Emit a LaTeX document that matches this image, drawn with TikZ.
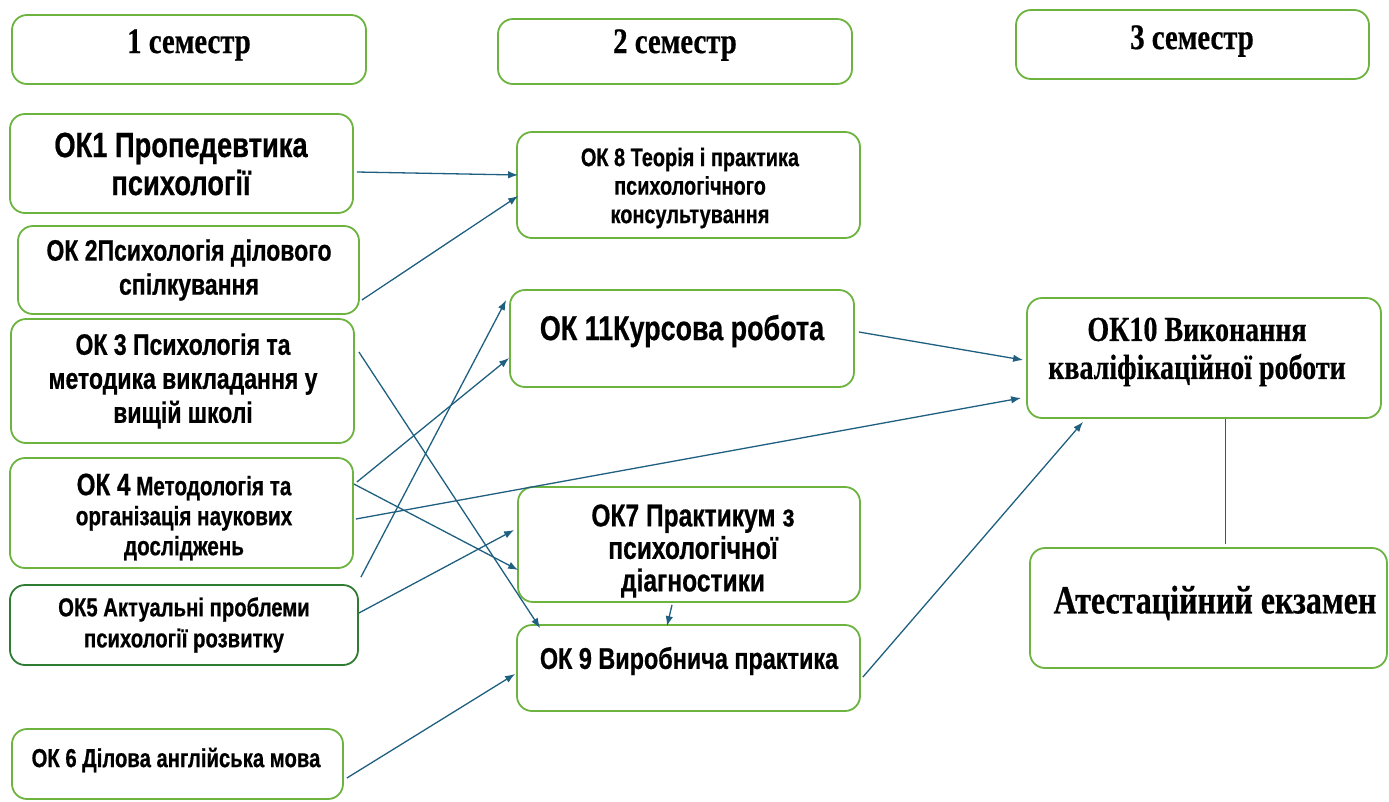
\documentclass[tikz,border=0pt]{standalone}
\usepackage{fontspec}
\usetikzlibrary{arrows.meta}
\newfontfamily\ns{Liberation Sans}[FakeStretch=0.78,FakeBold=0.6]
\newfontfamily\sr{Liberation Serif}[FakeStretch=0.8,FakeBold=0.5]
\definecolor{boxgreen}{HTML}{6CB33F}
\definecolor{darkgreen}{HTML}{2E7D32}
\definecolor{arrowblue}{HTML}{1F5F80}
\newcommand{\fs}[2]{\fontsize{#1}{#2}\selectfont}
\tikzset{
  box/.style={draw=boxgreen, line width=1.8pt, rounded corners=15pt, inner sep=0pt, fill=white},
  lbl/.style={align=center, inner sep=0pt},
  conn/.style={draw=arrowblue, line width=1.3pt, -{Latex[length=10pt,width=7.5pt]}},
  link/.style={draw=arrowblue, line width=1pt}
}
\begin{document}
\begin{tikzpicture}[x=1pt,y=-1pt]
\useasboundingbox (0,0) rectangle (1389,801);
% boxes
\node[box, minimum width=354pt, minimum height=69pt] (s1) at (189,49.5) {};
\node[box, minimum width=354pt, minimum height=65pt] (s2) at (675,51.5) {};
\node[box, minimum width=353pt, minimum height=69pt] (s3) at (1192.5,44.5) {};
\node[box, minimum width=343pt, minimum height=99pt] (ok1) at (181.5,163.5) {};
\node[box, minimum width=341pt, minimum height=88pt] (ok2) at (188.5,270) {};
\node[box, minimum width=343pt, minimum height=124pt] (ok3) at (182.5,381) {};
\node[box, minimum width=343pt, minimum height=110pt] (ok4) at (181.5,513) {};
\node[box, draw=darkgreen, minimum width=348pt, minimum height=80pt] (ok5) at (184,625) {};
\node[box, minimum width=331pt, minimum height=70pt] (ok6) at (177.5,764) {};
\node[box, minimum width=343pt, minimum height=106pt] (ok8) at (688.5,185) {};
\node[box, minimum width=344pt, minimum height=97pt] (ok11) at (682,338.5) {};
\node[box, minimum width=342pt, minimum height=115pt] (ok7) at (689,544.5) {};
\node[box, minimum width=343pt, minimum height=86pt] (ok9) at (688.5,668) {};
\node[box, minimum width=354pt, minimum height=120pt] (ok10) at (1204,358) {};
\node[box, minimum width=357pt, minimum height=120pt] (att) at (1208.5,608) {};
% texts
\node[lbl, font=\sr\bfseries\fs{36}{40}] (t-s1) at (189,45) {1 семестр};
\node[lbl, font=\sr\bfseries\fs{36}{40}] (t-s2) at (675,45) {2 семестр};
\node[lbl, font=\sr\bfseries\fs{36}{40}] (t-s3) at (1192,41) {3 семестр};
\node[lbl, font=\ns\bfseries\fs{35}{38}] (t-ok1) at (181,164) {ОК1 Пропедевтика\\психології};
\node[lbl, font=\ns\bfseries\fs{29.5}{34}] (t-ok2) at (189,270) {ОК 2Психологія ділового\\спілкування};
\node[lbl, font=\ns\bfseries\fs{29.5}{34}] (t-ok3) at (183,381) {ОК 3 Психологія та\\методика викладання у\\вищій школі};
\node[lbl, font=\ns\bfseries\fs{26.5}{30}] (t-ok4) at (184,517) {{\fs{31}{30}ОК 4} Методологія та\\організація наукових\\досліджень};
\node[lbl, font=\ns\bfseries\fs{26}{31}] (t-ok5) at (184,625) {ОК5 Актуальні проблеми\\психології розвитку};
\node[lbl, font=\ns\bfseries\fs{26}{30}] (t-ok6) at (176,760) {ОК 6 Ділова англійська мова};
\node[lbl, font=\ns\bfseries\fs{25.5}{28.5}] (t-ok8) at (690,188) {ОК 8 Теорія і практика\\психологічного\\консультування};
\node[lbl, font=\ns\bfseries\fs{34.5}{38}] (t-ok11) at (682,331) {ОК 11Курсова робота};
\node[lbl, font=\ns\bfseries\fs{31.5}{32.5}] (t-ok7) at (693,551) {ОК7 Практикум з\\психологічної\\діагностики};
\node[lbl, font=\ns\bfseries\fs{30}{33}] (t-ok9) at (689,661) {ОК 9 Виробнича практика};
\node[lbl, font=\sr\bfseries\fs{35}{38}] (t-ok10) at (1197,352) {ОК10 Виконання\\кваліфікаційної роботи};
\node[lbl, font=\sr\bfseries\fs{40}{44}] (t-att) at (1215,603) {Атестаційний екзамен};
% connectors
\draw[conn] ([xshift=3pt,yshift=-8.5pt]ok1.east) -- ([xshift=2pt,yshift=10pt]ok8.west);
\draw[conn] ([xshift=2pt,yshift=-30pt]ok2.east) -- ([xshift=2pt,yshift=-11pt]ok8.west);
\draw[conn] ([xshift=4pt,yshift=29pt]ok3.east) -- ([xshift=24pt,yshift=-4pt]ok9.north west);
\draw[conn] ([xshift=3pt,yshift=31pt]ok4.east) -- ([xshift=0pt,yshift=-19.5pt]ok11.west);
\draw[conn] ([xshift=0pt,yshift=29pt]ok4.east) -- ([xshift=1pt,yshift=-25.5pt]ok7.west);
\draw[conn] ([xshift=2pt,yshift=-6pt]ok4.east) -- ([xshift=-5pt,yshift=-40pt]ok10.west);
\draw[conn] ([xshift=2pt,yshift=7pt]ok5.north east) -- ([xshift=-3pt,yshift=-11pt]ok11.north west);
\draw[conn] ([xshift=0pt,yshift=12pt]ok5.east) -- ([xshift=-3pt,yshift=14.5pt]ok7.west);
\draw[conn] ([xshift=-17pt,yshift=-2pt]ok7.south) -- ([xshift=-21.5pt,yshift=-2pt]ok9.north);
\draw[conn] ([xshift=3pt,yshift=-14pt]ok6.east) -- ([xshift=-1pt,yshift=-6pt]ok9.west);
\draw[conn] ([xshift=4pt,yshift=6.5pt]ok11.east) -- ([xshift=-3pt,yshift=-2pt]ok10.west);
\draw[conn] ([xshift=2pt,yshift=-9pt]ok9.east) -- ([xshift=-121pt,yshift=-3pt]ok10.south);
\draw[link] ([xshift=21pt]ok10.south) -- ([xshift=16.5pt,yshift=3pt]att.north);
\end{tikzpicture}
\end{document}
